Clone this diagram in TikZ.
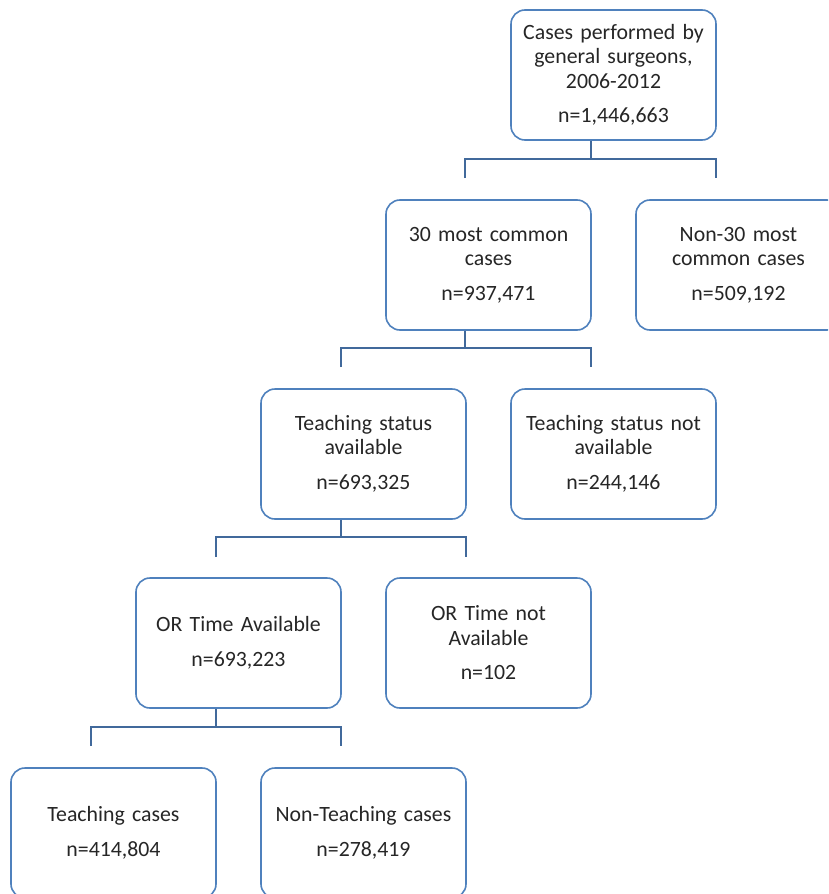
\documentclass[tikz,border=0pt]{standalone}
\usepackage{fontspec}
\setmainfont{Carlito}
\usetikzlibrary{calc}
\definecolor{boxblue}{HTML}{4F81BD}
\definecolor{connblue}{HTML}{41699B}
\tikzset{
  box/.style={draw=boxblue, line width=1.6pt, fill=white, rounded corners=14pt,
    minimum width=205pt, minimum height=130pt, inner sep=0pt, text width=200pt,
    align=center, font=\fontsize{21.8}{24.3}\selectfont, text=black!85},
  conn/.style={draw=connblue, line width=1.6pt}
}
\begin{document}
\begin{tikzpicture}[x=1pt,y=-1pt]
\useasboundingbox (0,0) rectangle (828,894);
\clip (0,0) rectangle (828,894);
\node[box] (b1) at (613.5,75) {Cases performed by\\general surgeons,\\2006-2012\\[10.5pt]n=1,446,663};
\node[box] (b2) at (488.5,265) {30 most common\\cases\\[10.5pt]n=937,471};
\node[box] (b3) at (738.5,265) {Non-30 most\\common cases\\[10.5pt]n=509,192};
\node[box] (b4) at (363.5,454) {Teaching status\\available\\[10.5pt]n=693,325};
\node[box] (b5) at (613.5,454) {Teaching status not\\available\\[10.5pt]n=244,146};
\node[box] (b6) at (238.5,643) {OR Time Available\\[10.5pt]n=693,223};
\node[box] (b7) at (488.5,643) {OR Time not\\Available\\[10.5pt]n=102};
\node[box] (b8) at (113.5,833) {Teaching cases\\[10.5pt]n=414,804};
\node[box] (b9) at (363.5,833) {Non-Teaching cases\\[10.5pt]n=278,419};
% connector 1
\coordinate (d1a) at (465,178);
\coordinate (d1b) at (716,178);
\draw[conn] ($(b1.south)+(-22.5,0)$) -- ++(0,19);
\draw[conn] (d1a) -- ++(0,-19) -| (d1b);
% connector 2
\coordinate (d2a) at (341,367);
\coordinate (d2b) at (591,367);
\draw[conn] ($(b2.south)+(-23.5,0)$) -- ++(0,18);
\draw[conn] (d2a) -- ++(0,-19) -| (d2b);
% connector 3
\coordinate (d3a) at (216,557);
\coordinate (d3b) at (466,557);
\draw[conn] ($(b4.south)+(-22.5,0)$) -- ++(0,18);
\draw[conn] (d3a) -- ++(0,-20) -| (d3b);
% connector 4
\coordinate (d4a) at (91,746);
\coordinate (d4b) at (341,746);
\draw[conn] ($(b6.south)+(-22.5,0)$) -- ++(0,19);
\draw[conn] (d4a) -- ++(0,-19) -| (d4b);
\end{tikzpicture}
\end{document}
